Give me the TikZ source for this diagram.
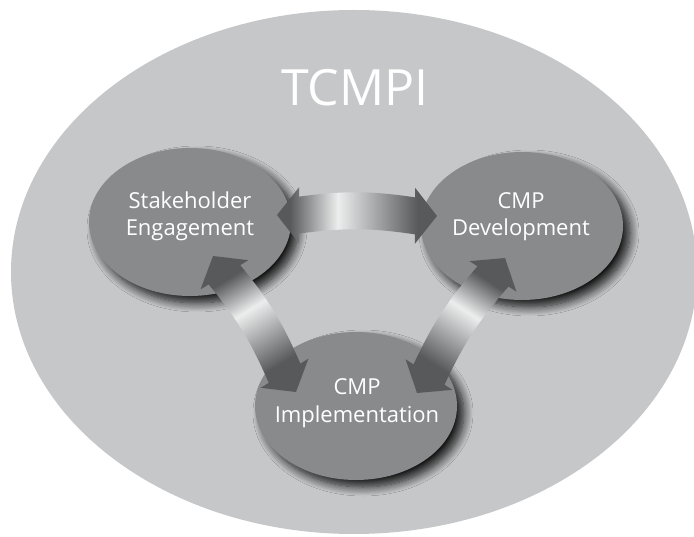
\documentclass[tikz,border=0pt]{standalone}
\usepackage{fontspec}
\setmainfont{Open Sans}
\usetikzlibrary{shapes.geometric,calc,shadows.blur}
\definecolor{bigfill}{HTML}{C6C7C9}
\definecolor{blobfill}{HTML}{898A8C}
\definecolor{adark}{HTML}{58595B}
\definecolor{alight}{HTML}{ECEDED}
\pgfdeclarehorizontalshading{fatshade}{100bp}{color(0bp)=(adark); color(29bp)=(adark); color(44bp)=(alight); color(69bp)=(adark); color(100bp)=(adark)}
\tikzset{
  blob/.style={ellipse, fill=blobfill, inner sep=0pt, minimum width=202pt, minimum height=148pt,
    blur shadow={shadow xshift=7pt, shadow yshift=-7pt, shadow blur radius=9pt, shadow opacity=90, shadow blur steps=12}},
  lbl/.style={text=white, font=\fontsize{22}{27.5}\selectfont, align=center, inner sep=0pt},
  ttl/.style={text=white, font=\fontsize{50}{56}\selectfont, inner sep=0pt}
}
\newcommand{\fatarrow}[4]{%
  \shade[shading=fatshade, shading angle=#3]
    (#1) -- ($(#1)!22pt!(#2)!28pt!90:(#2)$) -- ($(#1)!22pt!(#2)!18.5pt!90:(#2)$)
    to[bend left=#4] ($(#2)!22pt!(#1)!18.5pt!-90:(#1)$)
    -- ($(#2)!22pt!(#1)!28pt!-90:(#1)$) -- (#2)
    -- ($(#2)!22pt!(#1)!28pt!90:(#1)$) -- ($(#2)!22pt!(#1)!18.5pt!90:(#1)$)
    to[bend right=#4] ($(#1)!22pt!(#2)!18.5pt!-90:(#2)$)
    -- ($(#1)!22pt!(#2)!28pt!-90:(#2)$) -- cycle;}
\begin{document}
\begin{tikzpicture}[x=1pt, y=-1pt]
  \useasboundingbox (0,0) rectangle (694,537);
  \fill[white] (0,0) rectangle (694,537);
  \node[ellipse, fill=bigfill, inner sep=0pt, minimum width=686pt, minimum height=524pt] (tcmpi) at (354,272) {};
  \node[ttl, anchor=base] (title) at (355,106) {TCMPI};

  \node[blob] (se) at (190,222) {};
  \node[blob] (dev) at (522,226) {};
  \node[blob] (impl) at (356,406) {};

  \coordinate (t1a) at ($(se)+(87,-7)$);
  \coordinate (t1b) at ($(dev)+(-85,-10)$);
  \coordinate (t2a) at ($(se)+(23,34)$);
  \coordinate (t2b) at ($(impl)+(-60,-14)$);
  \coordinate (t3a) at ($(impl)+(61,-13)$);
  \coordinate (t3b) at ($(dev)+(-17,32)$);

  \fatarrow{t1a}{t1b}{0}{8}
  \fatarrow{t2a}{t2b}{-58.6}{8}
  \fatarrow{t3a}{t3b}{-123}{8}

  \node[lbl] (selbl) at (190,216.3) {Stakeholder\\Engagement};
  \node[lbl] (devlbl) at (521,216.8) {CMP\\Development};
  \node[lbl] (impllbl) at (357,403.3) {CMP\\Implementation};
\end{tikzpicture}
\end{document}
